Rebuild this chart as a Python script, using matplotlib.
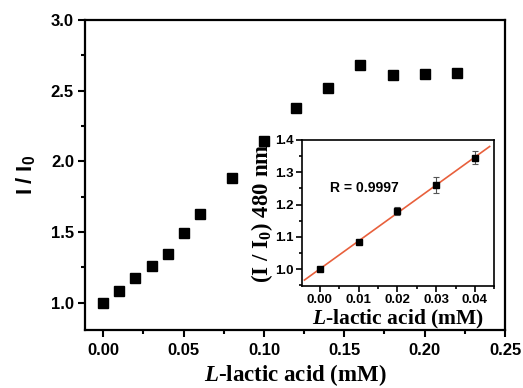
import matplotlib
matplotlib.use("Agg")
import matplotlib.pyplot as plt
import numpy as np
from matplotlib.ticker import MultipleLocator, FormatStrFormatter

plt.rcParams['mathtext.fontset'] = 'custom'
plt.rcParams['mathtext.bf'] = 'Liberation Sans:bold'
plt.rcParams['mathtext.rm'] = 'Liberation Serif:bold'
plt.rcParams['mathtext.it'] = 'Liberation Serif:bold:italic'

# Main data
conc = [0.00, 0.01, 0.02, 0.03, 0.04, 0.05, 0.06, 0.08, 0.10, 0.12, 0.14, 0.16, 0.18, 0.20, 0.22]
ratio = [1.00, 1.083, 1.177, 1.258, 1.342, 1.495, 1.628, 1.880, 2.144, 2.376, 2.517, 2.682, 2.611, 2.616, 2.623]

# Inset data
ins_conc = [0.00, 0.01, 0.02, 0.03, 0.04]
ins_ratio = [1.000, 1.085, 1.180, 1.260, 1.345]
ins_err = [0.006, 0.006, 0.012, 0.025, 0.020]
r_text = "R = 0.9997"

fig = plt.figure(figsize=(5.23, 3.88), dpi=100)
ax = fig.add_axes([0.1625, 0.1495, 0.8031, 0.799])
ax.plot(conc, ratio, 's', color='black', markersize=6.5)
ax.set_xlim(-0.0114, 0.25)
ax.set_ylim(0.807, 3.0)
ax.xaxis.set_major_locator(MultipleLocator(0.05))
ax.xaxis.set_minor_locator(MultipleLocator(0.025))
ax.yaxis.set_major_locator(MultipleLocator(0.5))
ax.yaxis.set_minor_locator(MultipleLocator(0.25))
ax.tick_params(which='both', direction='out', top=False, right=False, width=1.5)
ax.tick_params(which='major', length=5, labelsize=12, pad=3)
ax.tick_params(axis='x', which='major', pad=4.5)
ax.tick_params(which='minor', length=3)
ax.xaxis.set_major_formatter(FormatStrFormatter('%.2f'))
ax.yaxis.set_major_formatter(FormatStrFormatter('%.1f'))
for lbl in ax.get_xticklabels() + ax.get_yticklabels():
    lbl.set_fontfamily('Liberation Sans')
    lbl.set_fontweight('bold')
for s in ax.spines.values():
    s.set_linewidth(1.6)
ax.set_xlabel(r'$\mathit{L}$' + '-lactic acid (mM)', fontfamily='Liberation Serif',
              fontweight='bold', fontsize=16.5, labelpad=3)
ax.set_ylabel(r'$\mathbf{I\ /\ I_0}$', fontsize=16, labelpad=9)

# Inset
ins = fig.add_axes([0.5769, 0.2629, 0.3682, 0.3763])
ins.errorbar(ins_conc, ins_ratio, yerr=ins_err, fmt='s', color='black', markersize=4.5,
             ecolor='#555555', elinewidth=0.8, capsize=2, capthick=0.8, zorder=3)
p = np.polyfit(ins_conc, ins_ratio, 1)
xl = np.array([-0.004, 0.0438])
ins.plot(xl, np.polyval(p, xl), color='#e8603c', linewidth=1.2, zorder=2)
ins.set_xlim(-0.0047, 0.045)
ins.set_ylim(0.948, 1.4)
ins.xaxis.set_major_locator(MultipleLocator(0.01))
ins.xaxis.set_minor_locator(MultipleLocator(0.005))
ins.yaxis.set_major_locator(MultipleLocator(0.1))
ins.yaxis.set_minor_locator(MultipleLocator(0.05))
ins.tick_params(which='both', direction='out', top=False, right=False, width=1.2)
ins.tick_params(which='major', length=4, labelsize=9.5, pad=2)
ins.tick_params(which='minor', length=2.5)
ins.xaxis.set_major_formatter(FormatStrFormatter('%.2f'))
ins.yaxis.set_major_formatter(FormatStrFormatter('%.1f'))
for lbl in ins.get_xticklabels() + ins.get_yticklabels():
    lbl.set_fontfamily('Liberation Sans')
    lbl.set_fontweight('bold')
for s in ins.spines.values():
    s.set_linewidth(1.2)
ins.set_xlabel(r'$\mathit{L}$' + '-lactic acid (mM)', fontfamily='Liberation Serif',
               fontweight='bold', fontsize=15.5, labelpad=1)
ins.set_ylabel(r'$\mathrm{(I\ /\ I_0)\ 480\ nm}$', fontsize=16.5, labelpad=0)
ins.text(0.0026, 1.25, r_text, fontfamily='Liberation Sans', fontweight='bold',
         fontsize=10, va='center')

fig.savefig('out.png', dpi=100)
